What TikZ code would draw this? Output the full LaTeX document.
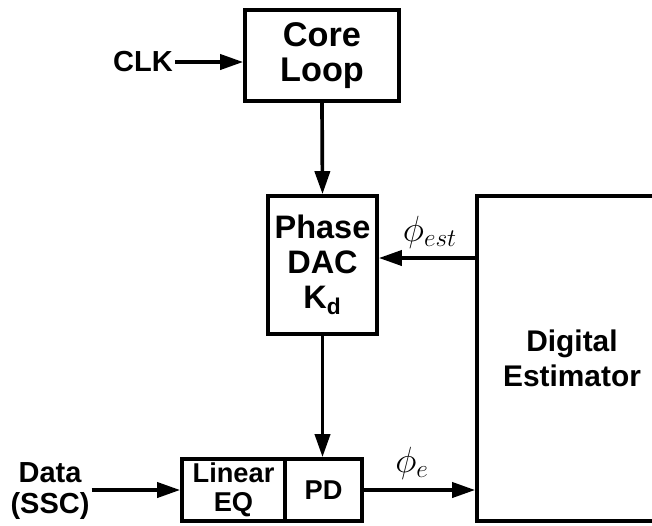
\documentclass[tikz,border=0pt]{standalone}
\usepackage{fontspec}
\setmainfont{Liberation Sans}
\usetikzlibrary{arrows.meta,positioning}
\tikzset{
  blockbox/.style={draw,line width=2.1pt,align=center,inner sep=0pt,
                   font=\fontsize{18.5}{20}\selectfont\bfseries},
  smallbox/.style={blockbox,font=\fontsize{15.5}{16.5}\selectfont\bfseries},
  sigline/.style={line width=2.1pt,-{Triangle[length=0.46cm,width=0.3cm]}},
  pinlabel/.style={align=center,inner sep=1pt,
                   font=\fontsize{16.5}{17.5}\selectfont\bfseries},
  philabel/.style={inner sep=0pt,font=\fontsize{21}{22}\selectfont}
}

\begin{document}
\begin{tikzpicture}[x=0.02cm,y=-0.02cm]
        \clip (0,0) rectangle (652,525);
        % blocks
        \node[blockbox,minimum width=3.08cm,minimum height=1.82cm,
              font=\fontsize{19.5}{20}\selectfont\bfseries]
          (core) at (322,55.5) {Core\\Loop};
        \node[blockbox,minimum width=2.18cm,minimum height=2.76cm]
          (dac) at (322.5,265) {Phase\\DAC\\K\textsubscript{d}};
        \node[smallbox,minimum width=2.06cm,minimum height=1.24cm]
          (eq) at (233.5,490) {Linear\\EQ};
        \node[smallbox,minimum width=1.54cm,minimum height=1.24cm]
          (pd) at (323.5,490) {PD};
        \node[blockbox,minimum width=3.8cm,minimum height=6.5cm,
              font=\fontsize{17}{20}\selectfont\bfseries]
          (dig) at (572,358.5) {Digital\\Estimator};
        % inputs
        \node[pinlabel] (clk) at (143,62) {CLK};
        \node[pinlabel] (data) at (50,491) {Data\\(SSC)};
        \coordinate (estout) at (477,258);
        % connections
        \draw[sigline] (clk.east) -- (clk.east -| core.west);
        \draw[sigline] (core.south) -- (dac.north);
        \draw[sigline] (dac.south) -- (dac.south |- pd.north);
        \draw[sigline] (estout) -- (estout -| dac.east);
        \draw[sigline] (data.east |- eq.west) -- (eq.west);
        \draw[sigline] (pd.east) -- (pd.east -| dig.west);
        \node[philabel] (phiest) at (430,232) {$\phi_{est}$};
        \node[philabel] (phie) at (412,463) {$\phi_{e}$};
      \end{tikzpicture}
\end{document}
